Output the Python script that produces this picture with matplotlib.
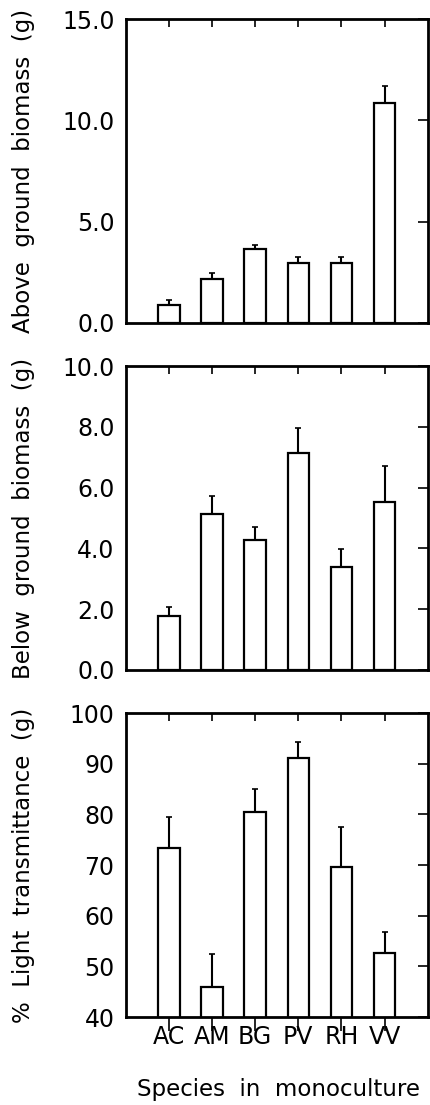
import matplotlib.pyplot as plt

plt.rcParams['font.family'] = ['DejaVu Sans']

species = ['AC', 'AM', 'BG', 'PV', 'RH', 'VV']

above_mean = [0.90, 2.18, 3.66, 2.97, 2.95, 10.84]
above_se = [0.24, 0.30, 0.20, 0.30, 0.32, 0.86]

below_mean = [1.78, 5.13, 4.28, 7.14, 3.39, 5.53]
below_se = [0.29, 0.59, 0.42, 0.82, 0.59, 1.18]

light_mean = [73.3, 45.9, 80.4, 91.1, 69.6, 52.6]
light_se = [6.1, 6.5, 4.6, 3.3, 8.0, 4.2]

above_ticks = [0.0, 5.0, 10.0, 15.0]
below_ticks = [0.0, 2.0, 4.0, 6.0, 8.0, 10.0]
light_ticks = [40, 50, 60, 70, 80, 90, 100]

fig = plt.figure(figsize=(4.30, 11.05), dpi=100)

panels = [
    (above_mean, above_se, above_ticks, '%.1f', 'Above  ground  biomass  (g)', 0.7077),
    (below_mean, below_se, below_ticks, '%.1f', 'Below  ground  biomass  (g)', 0.3937),
    (light_mean, light_se, light_ticks, '%d', '%  Light  transmittance  (g)', 0.0796),
]

x = list(range(len(species)))
for i, (mean, se, ticks, fmt, label, bottom) in enumerate(panels):
    ax = fig.add_axes([0.292, bottom, 0.703, 0.275])
    ax.bar(x, mean, width=0.5, color='white', edgecolor='black',
           linewidth=1.6, zorder=2)
    ax.errorbar(x, mean, yerr=[[0] * len(se), se], fmt='none', ecolor='black',
                elinewidth=1.5, capsize=2, capthick=1.2, zorder=3)
    ax.set_xlim(-1, 6)
    ax.set_ylim(ticks[0], ticks[-1])
    ax.set_yticks(ticks)
    ax.set_yticklabels([fmt % t for t in ticks])
    ax.set_xticks(x)
    ax.tick_params(axis='x', top=True, bottom=True, direction='in', length=6,
                   width=1.2, labelsize=17, pad=6)
    if i == 2:
        ax.set_xticklabels(species)
        ax.set_xlabel('Species  in  monoculture', fontsize=16.5)
        ax.xaxis.set_label_coords(0.507, -0.2)
        # bottom ticks cross the axis in the last panel
        for t in ax.xaxis.get_major_ticks():
            t.tick1line.set_marker(3)
            t.tick1line.set_markersize(10)
            t.tick1line.set_markeredgewidth(1.2)
    else:
        ax.set_xticklabels([])
    ax.tick_params(axis='y', left=False, right=True, direction='in',
                   length=7, width=1.2, labelsize=17, pad=8)
    ax.set_ylabel(label, fontsize=16.5)
    ax.yaxis.set_label_coords(-0.3, 0.5)
    for s in ax.spines.values():
        s.set_linewidth(2)

fig.savefig('out.png', dpi=100)
